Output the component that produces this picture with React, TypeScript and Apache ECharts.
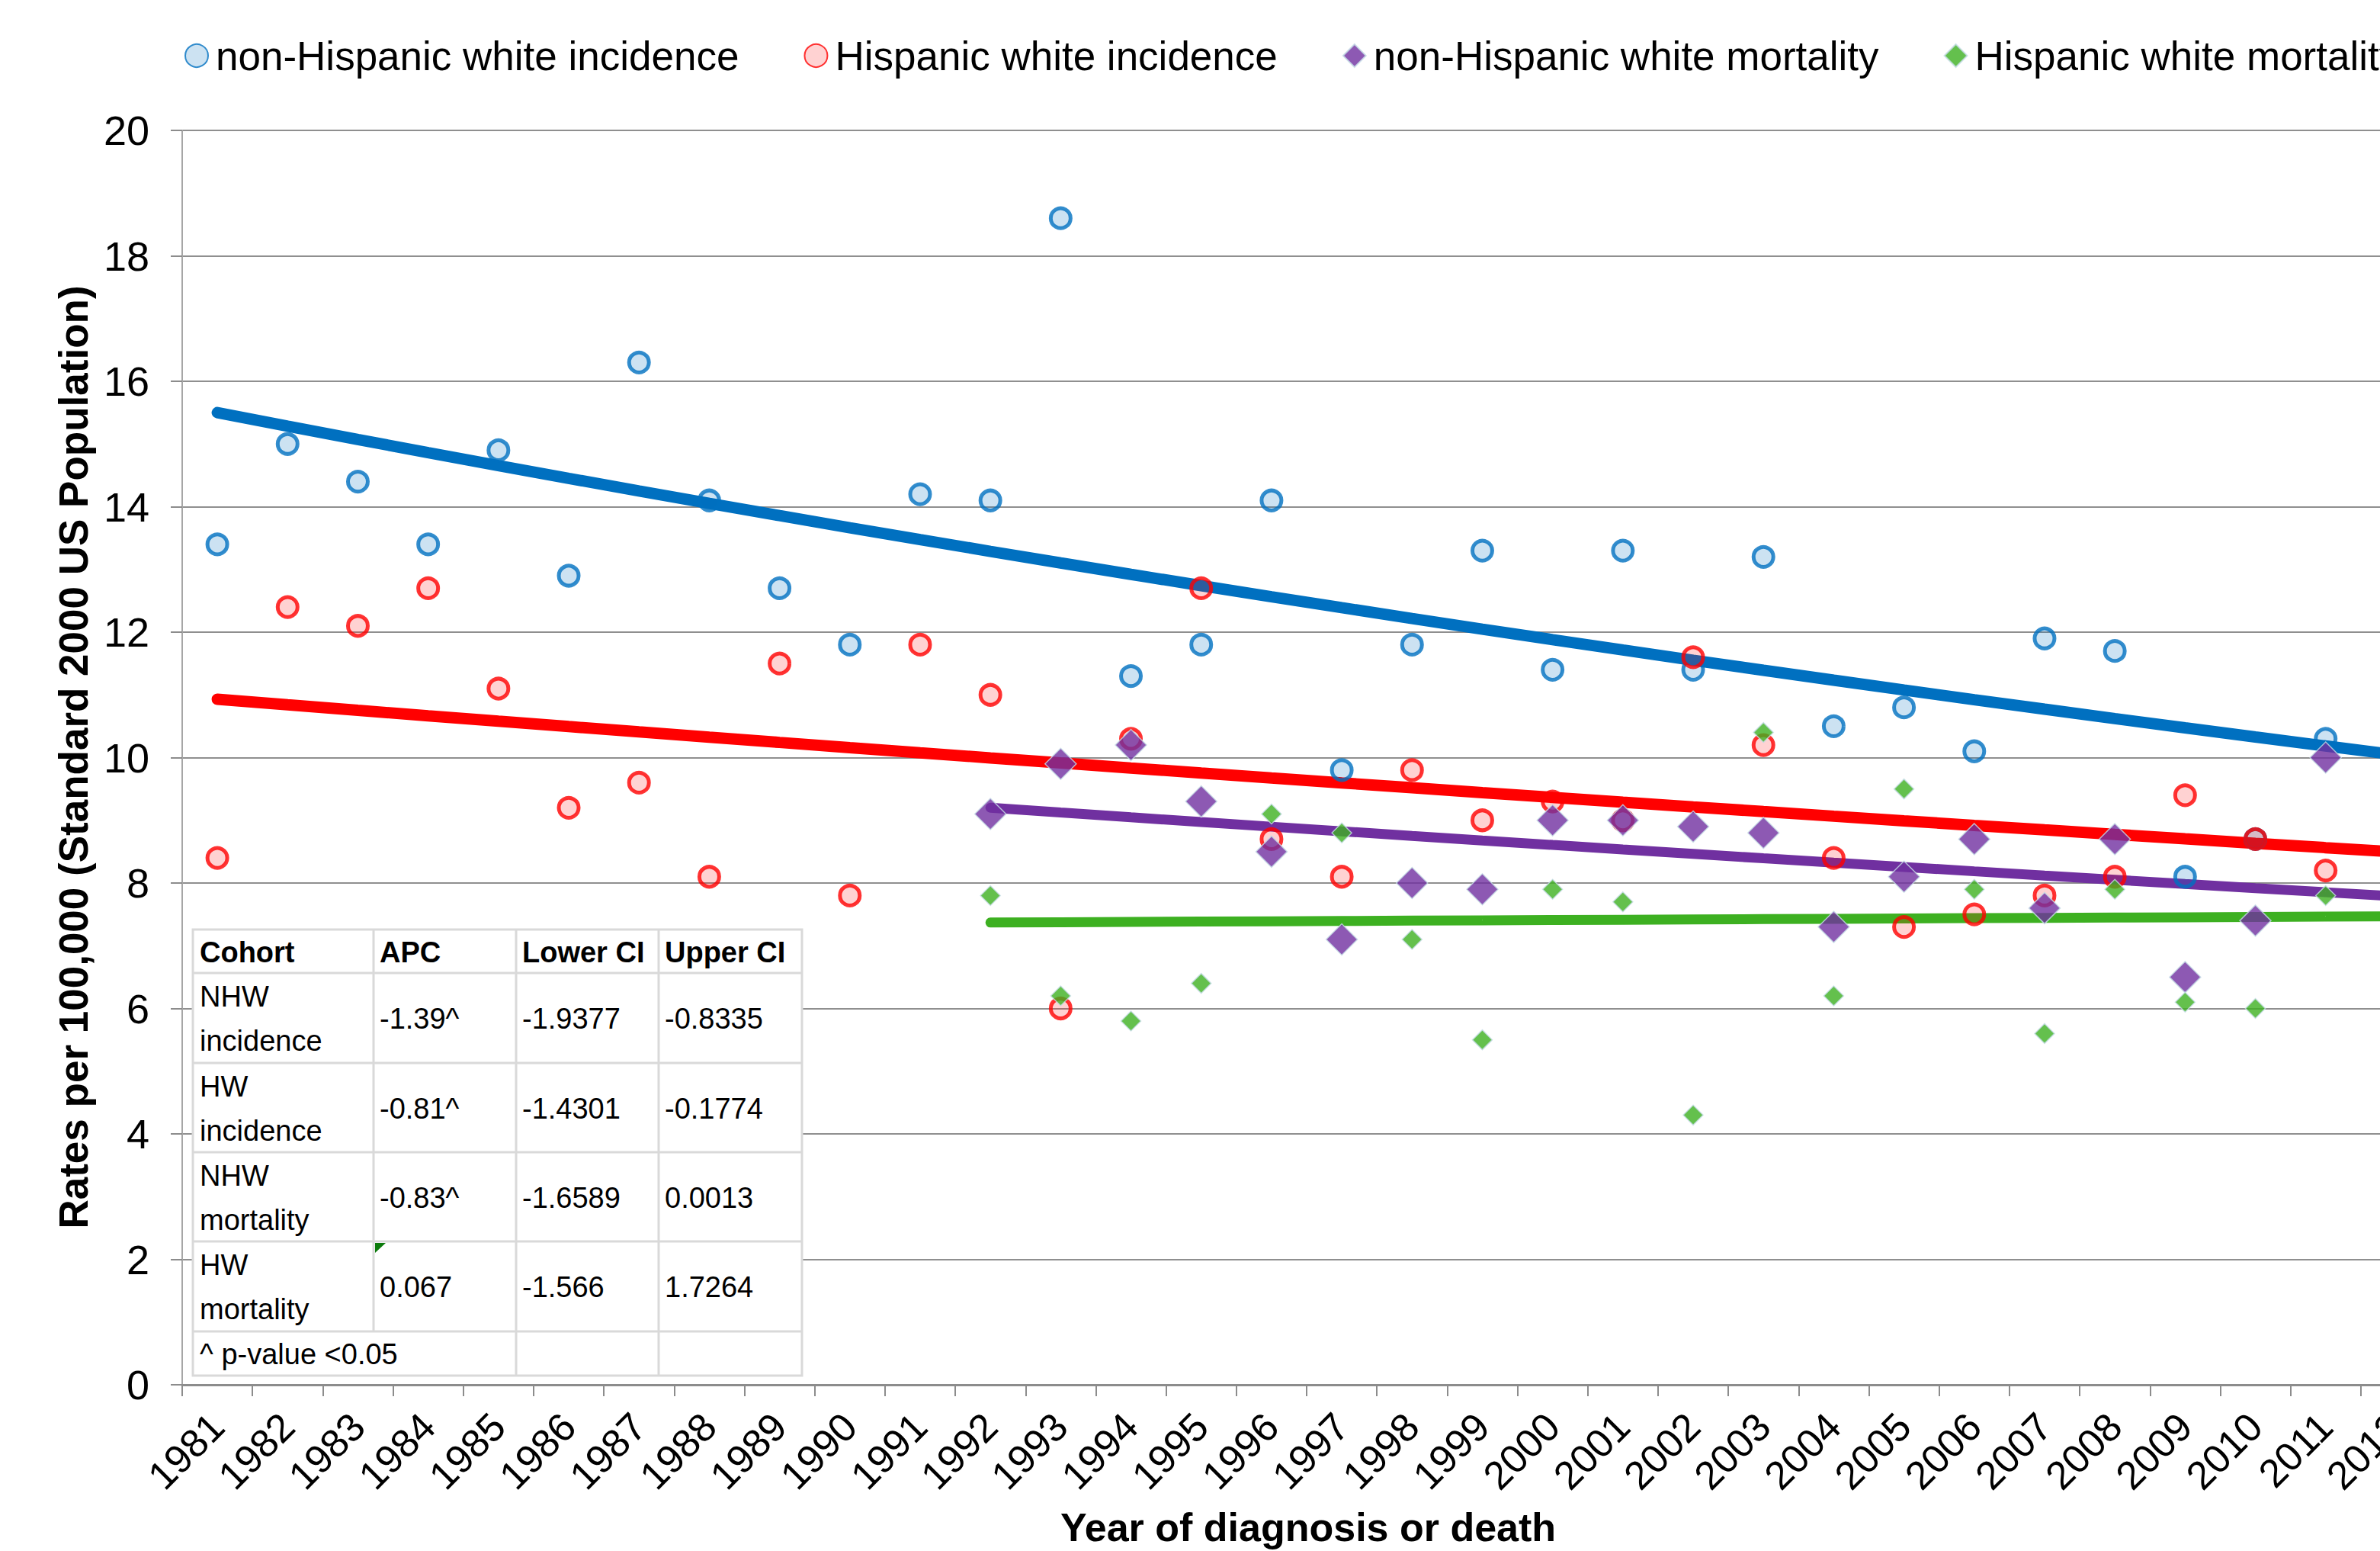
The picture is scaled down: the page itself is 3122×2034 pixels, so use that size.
import React, { useEffect, useRef } from 'react';
import * as echarts from 'echarts';

const FONT = '"Liberation Sans", Arial, Helvetica, sans-serif';

// Years of diagnosis or death
const CATEGORIES = [
  '1981', '1982', '1983', '1984', '1985', '1986', '1987', '1988', '1989', '1990',
  '1991', '1992', '1993', '1994', '1995', '1996', '1997', '1998', '1999', '2000',
  '2001', '2002', '2003', '2004', '2005', '2006', '2007', '2008', '2009', '2010',
  '2011', '2012',
];

const SERIES_NAMES = [
  'non-Hispanic white incidence',
  'Hispanic white incidence',
  'non-Hispanic white mortality',
  'Hispanic white mortality',
];

// Rates per 100,000 (age-adjusted to the 2000 US standard population)
const NHW_INCIDENCE = [
  13.4, 15.0, 14.4, 13.4, 14.9, 12.9, 16.3, 14.1, 12.7, 11.8,
  14.2, 14.1, 18.6, 11.3, 11.8, 14.1, 9.8, 11.8, 13.3, 11.4,
  13.3, 11.4, 13.2, 10.5, 10.8, 10.1, 11.9, 11.7, 8.1, 8.7,
  10.3, null,
];
const HW_INCIDENCE = [
  8.4, 12.4, 12.1, 12.7, 11.1, 9.2, 9.6, 8.1, 11.5, 7.8,
  11.8, 11.0, 6.0, 10.3, 12.7, 8.7, 8.1, 9.8, 9.0, 9.3,
  9.0, 11.6, 10.2, 8.4, 7.3, 7.5, 7.8, 8.1, 9.4, 8.7,
  8.2, null,
];
const NHW_MORTALITY = [
  null, null, null, null, null, null, null, null, null, null,
  null, 9.1, 9.9, 10.2, 9.3, 8.5, 7.1, 8.0, 7.9, 9.0,
  9.0, 8.9, 8.8, 7.3, 8.1, 8.7, 7.6, 8.7, 6.5, 7.4,
  10.0, null,
];
const HW_MORTALITY = [
  null, null, null, null, null, null, null, null, null, null,
  null, 7.8, 6.2, 5.8, 6.4, 9.1, 8.8, 7.1, 5.5, 7.9,
  7.7, 4.3, 10.4, 6.2, 9.5, 7.9, 5.6, 7.9, 6.1, 6.0,
  7.8, null,
];

// Annual percent change of each fitted trend, and the fitted value in its first year
const TREND_APC = [-1.39, -0.81, -0.83, 0.067];
const TREND_START_VALUE = [15.5, 10.93, 9.2, 7.37];
const TREND_START_YEAR = ['1981', '1981', '1992', '1992'];

const Y_TICKS = { min: 0, max: 20, interval: 2 };

// APC summary table
const TABLE_HEADER = ['Cohort', 'APC', 'Lower CI', 'Upper CI'];
const TABLE_COHORTS = [
  ['NHW', 'incidence'],
  ['HW', 'incidence'],
  ['NHW', 'mortality'],
  ['HW', 'mortality'],
];
const TABLE_APC = ['-1.39^', '-0.81^', '-0.83^', '0.067'];
const TABLE_LOWER = ['-1.9377', '-1.4301', '-1.6589', '-1.566'];
const TABLE_UPPER = ['-0.8335', '-0.1774', '0.0013', '1.7264'];
const TABLE_NOTE = '^ p-value <0.05';

const COLORS = ['#0070C0', '#FF0000', '#7030A0', '#3DB021'];

// Log-linear trend: grows by APC percent per year from its first fitted year
function trendValues(k: number) {
  const first = Number(TREND_START_YEAR[k]);
  return CATEGORIES.map((c) => {
    const t = Number(c) - first;
    if (t < 0) return null;
    return +(TREND_START_VALUE[k] * Math.pow(1 + TREND_APC[k] / 100, t)).toFixed(4);
  });
}

const TABLE_Z = 100;

function buildTable() {
  const colX = [253, 490, 677, 864, 1052];
  const rowY = [1219, 1276, 1394, 1511, 1628, 1746, 1804];
  const border = '#D9D9D9';
  const els: any[] = [];
  els.push({
    type: 'rect',
    z: TABLE_Z,
    shape: { x: colX[0], y: rowY[0], width: colX[4] - colX[0], height: rowY[6] - rowY[0] },
    style: { fill: '#FFFFFF', stroke: border, lineWidth: 3 },
  });
  for (let r = 1; r < rowY.length - 1; r++) {
    els.push({
      type: 'line',
      z: TABLE_Z + 1,
      shape: { x1: colX[0], y1: rowY[r], x2: colX[4], y2: rowY[r] },
      style: { stroke: border, lineWidth: 3 },
    });
  }
  for (let c = 1; c < colX.length - 1; c++) {
    els.push({
      type: 'line',
      z: TABLE_Z + 1,
      shape: { x1: colX[c], y1: rowY[0], x2: colX[c], y2: c === 1 ? rowY[5] : rowY[6] },
      style: { stroke: border, lineWidth: 3 },
    });
  }
  const pad = [9, 8, 8, 8];
  const txt = (text: string, x: number, y: number, bold = false) => ({
    type: 'text',
    z: TABLE_Z + 2,
    x,
    y,
    style: {
      text,
      fill: '#000',
      font: `${bold ? 'bold ' : ''}38px ${FONT}`,
      textAlign: 'left',
      textVerticalAlign: 'middle',
    },
  });
  TABLE_HEADER.forEach((h, c) => els.push(txt(h, colX[c] + pad[c], 1249, true)));
  TABLE_COHORTS.forEach((lines, r) => {
    const top = rowY[r + 1];
    els.push(txt(lines[0], colX[0] + pad[0], top + 31));
    els.push(txt(lines[1], colX[0] + pad[0], top + 89));
    els.push(txt(TABLE_APC[r], colX[1] + pad[1], top + 60));
    els.push(txt(TABLE_LOWER[r], colX[2] + pad[2], top + 60));
    els.push(txt(TABLE_UPPER[r], colX[3] + pad[3], top + 60));
  });
  els.push(txt(TABLE_NOTE, colX[0] + pad[0], 1776));
  // cell-note marker in the HW mortality APC cell
  els.push({
    type: 'polygon',
    z: TABLE_Z + 2,
    shape: { points: [[colX[1] + 2, rowY[4] + 2], [colX[1] + 16, rowY[4] + 2], [colX[1] + 2, rowY[4] + 15]] },
    style: { fill: '#0B7A0B' },
  });
  return els;
}

const SCATTER_STYLE = [
  { symbol: 'circle', symbolSize: 26, itemStyle: { color: 'rgba(0,112,192,0.25)', borderColor: COLORS[0], borderWidth: 5 } },
  { symbol: 'circle', symbolSize: 26, itemStyle: { color: 'rgba(255,0,0,0.22)', borderColor: COLORS[1], borderWidth: 5 } },
  { symbol: 'diamond', symbolSize: 41, itemStyle: { color: COLORS[2], borderColor: '#C6DCE6', borderWidth: 1.5 } },
  { symbol: 'diamond', symbolSize: 26, itemStyle: { color: COLORS[3], borderColor: '#C6DCE6', borderWidth: 1.5 } },
];

const SERIES_DATA = [NHW_INCIDENCE, HW_INCIDENCE, NHW_MORTALITY, HW_MORTALITY];
const TREND_WIDTH = [15, 15, 13, 13];

export default function App() {
  const ref = useRef<HTMLDivElement>(null);

  useEffect(() => {
    if (!ref.current) return;
    const chart = echarts.init(ref.current, null, { renderer: 'svg' });

    const trendSeries = SERIES_NAMES.map((name, k) => ({
      name: `${name} trend`,
      type: 'line',
      data: trendValues(k),
      connectNulls: true,
      symbol: 'none',
      z: 2,
      silent: true,
      lineStyle: { color: COLORS[k], width: TREND_WIDTH[k], cap: 'round' },
      emphasis: { disabled: true },
    }));

    const scatterSeries = SERIES_NAMES.map((name, k) => ({
      name,
      type: 'scatter',
      data: SERIES_DATA[k],
      z: 3,
      ...SCATTER_STYLE[k],
      emphasis: { disabled: true },
    }));

    chart.setOption({
      animation: false,
      backgroundColor: '#FFFFFF',
      textStyle: { fontFamily: FONT },
      legend: {
        data: SERIES_NAMES,
        left: 237,
        top: 38,
        itemWidth: 30,
        itemHeight: 30,
        itemGap: 85,
        selectedMode: false,
        textStyle: { fontSize: 53, fontFamily: FONT, color: '#000', lineHeight: 60, padding: [0, 0, 0, 5] },
      },
      grid: { left: 239, top: 171, width: 2950, height: 1645, containLabel: false },
      xAxis: {
        type: 'category',
        data: CATEGORIES,
        boundaryGap: true,
        axisLine: { lineStyle: { color: '#8C8C8C', width: 3 } },
        axisTick: { show: true, interval: 0, length: 15, lineStyle: { color: '#8C8C8C', width: 2 } },
        axisLabel: { interval: 0, rotate: 45, margin: 46, fontSize: 52, color: '#000', fontFamily: FONT },
        splitLine: { show: false },
      },
      yAxis: {
        type: 'value',
        min: Y_TICKS.min,
        max: Y_TICKS.max,
        interval: Y_TICKS.interval,
        axisLine: { show: true, lineStyle: { color: '#A6A6A6', width: 2 } },
        axisTick: { show: true, length: 15, lineStyle: { color: '#8C8C8C', width: 2 } },
        axisLabel: { margin: 43, fontSize: 54, color: '#000', fontFamily: FONT },
        splitLine: { show: true, lineStyle: { color: '#8F8F8F', width: 2 } },
      },
      graphic: [
        {
          type: 'text',
          x: 96,
          y: 993,
          rotation: Math.PI / 2,
          style: {
            text: 'Rates per 100,000 (Standard 2000 US Population)',
            font: `bold 53px ${FONT}`,
            fill: '#000',
            textAlign: 'center',
            textVerticalAlign: 'middle',
          },
        },
        {
          type: 'text',
          x: 1716,
          y: 2003,
          style: {
            text: 'Year of diagnosis or death',
            font: `bold 52px ${FONT}`,
            fill: '#000',
            textAlign: 'center',
            textVerticalAlign: 'middle',
          },
        },
        ...buildTable(),
      ],
      series: [...trendSeries, ...scatterSeries],
    });

    return () => chart.dispose();
  }, []);

  return (
    <div
      style={{
        position: 'fixed',
        left: 0,
        top: 0,
        width: '100vw',
        height: '100vh',
        overflow: 'hidden',
        background: '#FFFFFF',
      }}
    >
      <div ref={ref} style={{ width: 3300, height: 2034 }} />
    </div>
  );
}
